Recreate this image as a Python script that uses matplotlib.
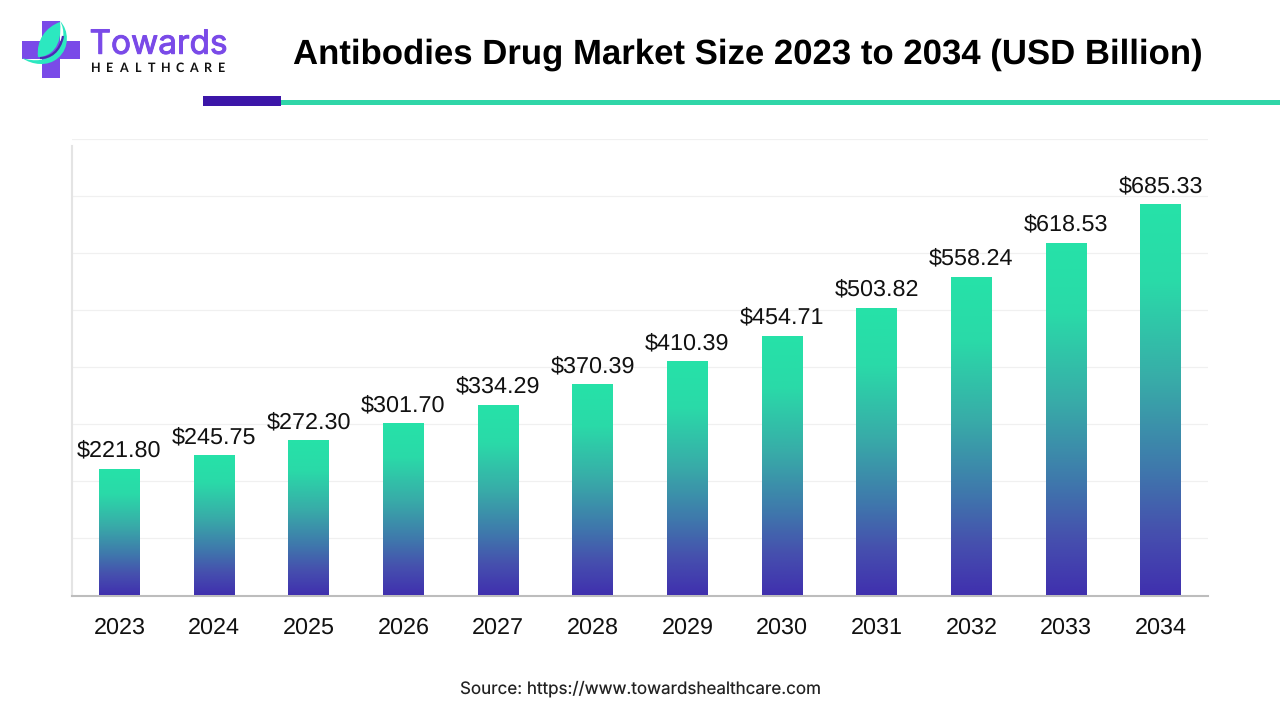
import numpy as np
import matplotlib
matplotlib.use("Agg")
import matplotlib.pyplot as plt
import matplotlib.patheffects as pe
from matplotlib.colors import LinearSegmentedColormap
from matplotlib.patches import Rectangle, PathPatch
from matplotlib.path import Path

years = ["2023", "2024", "2025", "2026", "2027", "2028", "2029", "2030", "2031", "2032", "2033", "2034"]
values = [221.80, 245.75, 272.30, 301.70, 334.29, 370.39, 410.39, 454.71, 503.82, 558.24, 618.53, 685.33]
y_ticks = [0, 100, 200, 300, 400, 500, 600, 700, 800]

W, H = 1280, 720
plt.rcParams['font.family'] = ['Liberation Sans', 'DejaVu Sans']
plt.rcParams['text.hinting'] = 'no_hinting'
plt.rcParams['text.hinting_factor'] = 8
fig = plt.figure(figsize=(W / 100, H / 100), dpi=100, facecolor='white')

bg = fig.add_axes([0, 0, 1, 1], zorder=0)
bg.set_xlim(0, W); bg.set_ylim(H, 0); bg.axis('off')

ax = fig.add_axes([72 / W, 1 - 595.5 / H, 1136 / W, (595.5 - 139) / H], zorder=1)
ax.patch.set_alpha(0)
cmap = LinearSegmentedColormap.from_list('g', [(0, '#26E2A8'), (0.2, '#2ADAA8'), (0.45, '#38ACA8'),
                                               (0.68, '#3F78AC'), (0.84, '#4650AE'), (1, '#4030AE')])
grad = np.linspace(0, 1, 256).reshape(-1, 1)
bar_w = 0.432
x = np.arange(len(years))
bars = ax.bar(x, values, width=bar_w, color='none', zorder=3)
for b, v, xi in zip(bars, values, x):
    im = ax.imshow(grad, cmap=cmap, aspect='auto', origin='upper',
                   extent=(xi - bar_w / 2, xi + bar_w / 2, 0, v), zorder=3, interpolation='bilinear')
    im.set_clip_path(b)
    ax.text(xi, v + 13, f"${v:.2f}", ha='center', va='bottom', fontsize=16.85, color='#111111', zorder=4)

ax.set_xlim(-0.5, len(years) - 0.5)
ax.set_ylim(0, 800)
ax.set_xticks(x, years)
ax.set_yticks(y_ticks)
ax.tick_params(axis='x', length=0, labelsize=16.85, pad=15.5, labelcolor='#111111')
ax.tick_params(axis='y', length=0, labelleft=False)
ax.grid(axis='y', color='#F0F0F0', linewidth=0.9, zorder=0)
ax.set_axisbelow(True)
for s in ['top', 'right']:
    ax.spines[s].set_visible(False)
ax.spines['left'].set_color('#E4E4E4'); ax.spines['left'].set_linewidth(1.5)
ax.spines['left'].set_bounds(0, 788)
ax.spines['bottom'].set_color('#BDBDBD'); ax.spines['bottom'].set_linewidth(1.5)

bg.text(748, 54.5, "Antibodies Drug Market Size 2023 to 2034 (USD Billion)", ha='center', va='center',
        fontsize=25, fontweight='bold', color='#000000')
bg.text(640, 689, "Source: https://www.towardshealthcare.com", ha='center', va='center',
        fontsize=12.25, color='#222222', family=['Inter', 'DejaVu Sans'])
bg.add_patch(Rectangle((281, 100), 999, 5, color='#2FD6A8', lw=0))
bg.add_patch(Rectangle((203, 96), 78, 10, color='#3C16A8', lw=0))

# logo
purple = '#7A4AE8'
teal = '#2CE8C0'
C = Path.CURVE4
bg.add_patch(Rectangle((42, 20.5), 18, 57.5, color=purple, lw=0))
bg.add_patch(Rectangle((22, 41), 58, 18, color=purple, lw=0))
crescent = Path([(60, 21), (69, 30), (70, 48), (58, 58), (48, 67), (32, 65), (22, 58),
                 (34, 62), (48, 61), (56, 52), (65, 42), (65, 30), (60, 21)],
                [Path.MOVETO, C, C, C, C, C, C, C, C, C, C, C, C])
bg.add_patch(PathPatch(crescent, facecolor=teal, lw=0))
arc = Path([(40, 58), (50, 58), (60, 52), (63, 36)], [Path.MOVETO, C, C, C])
bg.add_patch(PathPatch(arc, facecolor='none', edgecolor='#4A2CB0', lw=1.6))
leaf = Path([(60, 22), (46, 27), (36, 40), (38, 57), (50, 57), (63, 47), (60, 22)],
            [Path.MOVETO, C, C, C, C, C, C])
bg.add_patch(PathPatch(leaf, facecolor=teal, lw=0))
bg.text(89.5, 45, "Towards", ha='left', va='center', fontsize=24, color=purple,
        family=['Inter', 'DejaVu Sans'],
        path_effects=[pe.withStroke(linewidth=0.7, foreground=purple)])
for ch, px in zip("HEALTHCARE", np.linspace(96, 221.5, 10)):
    bg.text(px, 68.5, ch, ha='center', va='center', fontsize=9, color='#111111', fontweight='bold',
            family=['Lato', 'DejaVu Sans'])

fig.savefig('out.png', dpi=100, facecolor='white')
